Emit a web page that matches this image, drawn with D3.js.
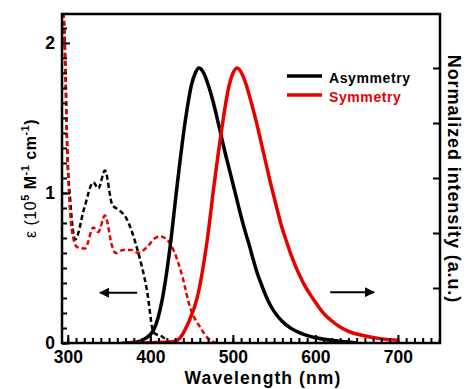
<!DOCTYPE html>
<html>
<head>
<meta charset="utf-8">
<script src="https://d3js.org/d3.v7.min.js"></script>
<style>
  body { margin: 0; background: #fff; }
  text { font-family: Arial, "Liberation Sans", sans-serif; }
</style>
</head>
<body>
<script>
// absorption (left axis, 10^5 M-1 cm-1)
var absAsym = [[295,2.2],[297,1.9],[299,1.35],[303,0.95],[309,0.69],[320,0.9],[331,1.07],[337,1.03],[345,1.15],[354,0.92],[361,0.89],[370,0.84],[385,0.61],[396,0.35],[404,0.07],[415,0.04],[424,0.0]];
var absSym = [[295,2.2],[297,1.8],[300,1.2],[305,0.75],[311,0.64],[321,0.63],[331,0.77],[337,0.74],[345,0.85],[354,0.64],[358,0.6],[367,0.62],[378,0.62],[385,0.6],[396,0.64],[406,0.7],[412,0.71],[420,0.69],[428,0.62],[439,0.44],[448,0.24],[461,0.1],[470,0.03],[480,0.0]];
// emission (right axis, normalized)
var emAsym = [[370,0],[384,0.004],[393,0.015],[404,0.047],[415,0.167],[424,0.35],[432,0.56],[442,0.8],[450,0.94],[455,0.985],[459,1.0],[465,0.98],[470,0.94],[475,0.89],[480,0.83],[485,0.765],[490,0.7],[495,0.64],[500,0.58],[505,0.52],[510,0.46],[515,0.405],[520,0.355],[525,0.3],[530,0.25],[535,0.21],[540,0.172],[545,0.14],[550,0.115],[560,0.078],[570,0.054],[582,0.036],[602,0.018],[627,0.007],[650,0]];
var emSym = [[366,0],[424,0.004],[433,0.011],[446,0.073],[457,0.167],[469,0.375],[477,0.568],[487,0.787],[495,0.93],[500,0.98],[505,1.0],[510,0.985],[515,0.95],[520,0.9],[525,0.845],[530,0.785],[535,0.72],[540,0.655],[545,0.59],[550,0.53],[555,0.47],[560,0.415],[565,0.37],[570,0.325],[578,0.265],[586,0.215],[594,0.175],[602,0.14],[610,0.108],[620,0.08],[630,0.058],[642,0.04],[655,0.029],[680,0.015],[700,0.01]];
var xTicks = [300, 400, 500, 600, 700];
var yTicks = [0, 1, 2];
var legendNames = ["Asymmetry", "Symmetry"];
var colors = ["#000", "#e60000"];

var W = 468, H = 389;
var m = {left: 62, right: 440, top: 14, bottom: 343};

var svg = d3.select('body').append('svg').attr('width', W).attr('height', H);

var x = d3.scaleLinear().domain([293, 751]).range([m.left, m.right]);
var yL = d3.scaleLinear().domain([0, 2.193]).range([m.bottom, m.top]);
var yR = d3.scaleLinear().domain([0, 1]).range([m.bottom, 68]);

svg.append('clipPath').attr('id', 'c').append('rect')
  .attr('x', m.left).attr('y', m.top).attr('width', m.right - m.left).attr('height', m.bottom - m.top);

function line(yS) {
  return d3.line().x(function(d) { return x(d[0]); }).y(function(d) { return yS(d[1]); }).curve(d3.curveMonotoneX);
}

var g = svg.append('g').attr('clip-path', 'url(#c)');
g.append('path').datum(absAsym).attr('d', line(yL)).attr('fill', 'none')
  .attr('stroke', colors[0]).attr('stroke-width', 2.5).attr('stroke-dasharray', '5,3');
g.append('path').datum(absSym).attr('d', line(yL)).attr('fill', 'none')
  .attr('stroke', colors[1]).attr('stroke-width', 2.5).attr('stroke-dasharray', '5,3');
g.append('path').datum(emAsym).attr('d', line(yR)).attr('fill', 'none')
  .attr('stroke', colors[0]).attr('stroke-width', 3.5);
g.append('path').datum(emSym).attr('d', line(yR)).attr('fill', 'none')
  .attr('stroke', colors[1]).attr('stroke-width', 3.5);

// axes, ticks pointing inward
svg.append('g').attr('transform', 'translate(0,' + m.bottom + ')')
  .call(d3.axisBottom(x).tickValues(d3.range(300, 751, 10)).tickSize(-5).tickFormat(''));
svg.append('g').attr('transform', 'translate(0,' + m.bottom + ')')
  .call(d3.axisBottom(x).tickValues(xTicks).tickSize(-8).tickPadding(8).tickFormat(d3.format('d')));
svg.append('g').attr('transform', 'translate(' + m.left + ',0)')
  .call(d3.axisLeft(yL).tickValues(d3.range(0, 2.15, 0.1)).tickSize(-5).tickFormat(''));
svg.append('g').attr('transform', 'translate(' + m.left + ',0)')
  .call(d3.axisLeft(yL).tickValues(yTicks).tickSize(-8).tickPadding(7).tickFormat(d3.format('d')));
svg.append('g').attr('transform', 'translate(' + m.right + ',0)')
  .call(d3.axisRight(yR).tickValues([0.2, 0.4, 0.6, 0.8, 1.0]).tickSize(-7).tickFormat(''));

svg.selectAll('.domain').remove();
svg.selectAll('.tick line').attr('stroke', '#000').attr('stroke-width', 2);
svg.selectAll('.tick text').attr('font-size', 17.5).attr('font-weight', 'bold').attr('fill', '#000')
  .style('font-family', 'Arial, "Liberation Sans", sans-serif');

svg.append('rect').attr('x', m.left).attr('y', m.top)
  .attr('width', m.right - m.left).attr('height', m.bottom - m.top)
  .attr('fill', 'none').attr('stroke', '#000').attr('stroke-width', 2.5);

// arrows
svg.append('defs').append('marker').attr('id', 'ah').attr('viewBox', '0 0 10 10').attr('refX', 9).attr('refY', 5)
  .attr('markerWidth', 5).attr('markerHeight', 5).attr('orient', 'auto')
  .append('path').attr('d', 'M0,0 L10,5 L0,10 z').attr('fill', '#000');
svg.append('line').attr('x1', x(384)).attr('x2', x(339)).attr('y1', yL(0.335)).attr('y2', yL(0.335))
  .attr('stroke', '#000').attr('stroke-width', 2).attr('marker-end', 'url(#ah)');
svg.append('line').attr('x1', x(618)).attr('x2', x(671)).attr('y1', yR(0.185)).attr('y2', yR(0.185))
  .attr('stroke', '#000').attr('stroke-width', 2).attr('marker-end', 'url(#ah)');

// legend
var leg = svg.append('g').attr('transform', 'translate(287,76)');
legendNames.forEach(function(n, i) {
  leg.append('line').attr('x1', 0).attr('x2', 35).attr('y1', i * 19).attr('y2', i * 19)
    .attr('stroke', colors[i]).attr('stroke-width', 3.5);
  leg.append('text').attr('x', 42).attr('y', i * 19 + 6.5).text(n)
    .attr('font-size', 14).attr('letter-spacing', 0.6).attr('font-weight', 'bold').attr('fill', colors[i]);
});

// axis titles
svg.append('text').attr('x', 263).attr('y', 384).attr('text-anchor', 'middle')
  .attr('font-size', 17.5).attr('letter-spacing', 1.1).attr('font-weight', 'bold').text('Wavelength (nm)');

var yl = svg.append('text').attr('transform', 'translate(36,178.5) rotate(-90)').attr('text-anchor', 'middle')
  .attr('font-size', 16).attr('letter-spacing', 0.5).attr('font-weight', 'bold');
yl.append('tspan').attr('font-weight', 'normal').text('ε (10');
yl.append('tspan').attr('font-size', 11).attr('dy', -7).text('5');
yl.append('tspan').attr('dy', 7).text(' M');
yl.append('tspan').attr('font-size', 11).attr('dy', -7).text('-1');
yl.append('tspan').attr('dy', 7).text(' cm');
yl.append('tspan').attr('font-size', 11).attr('dy', -7).text('-1');
yl.append('tspan').attr('dy', 7).text(')');

svg.append('text').attr('transform', 'translate(448,179) rotate(90)').attr('text-anchor', 'middle')
  .attr('font-size', 18).attr('letter-spacing', 0.9).attr('font-weight', 'bold').text('Normalized intensity (a.u.)');
</script>
</body>
</html>
